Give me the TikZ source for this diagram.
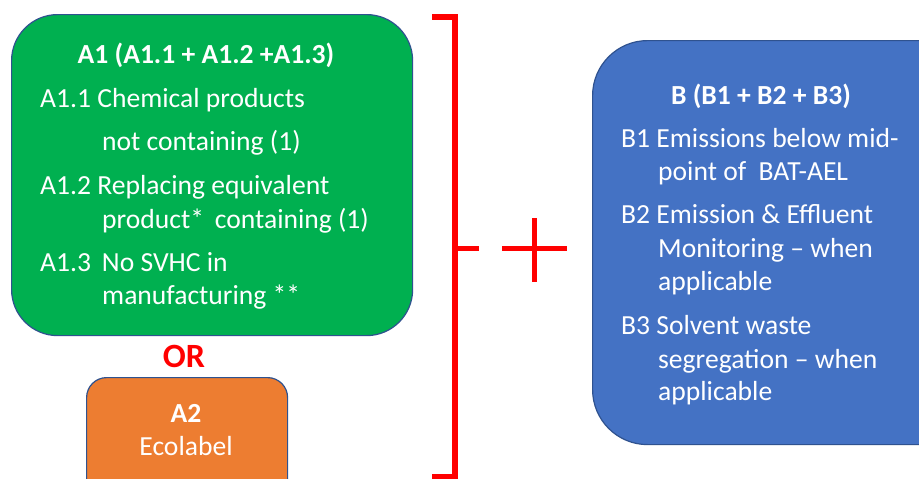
\documentclass[tikz,border=0pt]{standalone}
\usepackage{fontspec}
\setmainfont{Carlito}
\definecolor{grn}{HTML}{00B050}
\definecolor{org}{HTML}{ED7D31}
\definecolor{blu}{HTML}{4472C4}
\definecolor{edge}{HTML}{2F528F}
\definecolor{rd}{HTML}{FF0000}
\begin{document}
\begin{tikzpicture}[x=1pt,y=-1pt,
  box/.style={draw=edge, line width=1.2pt, anchor=north west, inner sep=0pt},
  txt/.style={anchor=base west, inner sep=0pt, text=white, font=\fontsize{27.6}{33}\selectfont},
  ttl/.style={anchor=base, inner sep=0pt, text=white, font=\fontsize{27.6}{33}\selectfont\bfseries},
  brk/.style={draw=rd, line width=5.5pt}]
\clip (0,0) rectangle (919,479);
\fill[white] (0,0) rectangle (919,479);
% boxes
\node[box, fill=grn, rounded corners=46pt, minimum width=401pt, minimum height=321pt] (A1) at (11,14) {};
\node[box, fill=org, rounded corners=20pt, minimum width=201pt, minimum height=140pt] (A2) at (86,377) {};
\node[box, fill=blu, rounded corners=55pt, minimum width=400pt, minimum height=404pt] (B) at (592,40) {};
% A1 text
\node[ttl] (a1t) at (206,63) {A1 (A1.1 + A1.2 +A1.3)};
\node[txt] (a11) at (40,107) {A1.1 Chemical products};
\node[txt] (a11b) at (102,150) {not containing (1)};
\node[txt] (a12) at (40,194) {A1.2 Replacing equivalent};
\node[txt] (a12b) at (102,228) {product*\, containing (1)};
\node[txt] (a13) at (40,271) {A1.3\, No SVHC in};
\node[txt] (a13b) at (102,304) {manufacturing **};
% OR
\node[anchor=base, inner sep=0pt, text=rd, font=\fontsize{34}{40}\selectfont\bfseries] (or) at (184,367) {OR};
% A2 text
\node[ttl] (a2t) at (186,422) {A2};
\node[anchor=base, inner sep=0pt, text=white, font=\fontsize{27.6}{33}\selectfont] (a2b) at (186,455) {Ecolabel};
% bracket and plus
\coordinate (bt1) at (432,17);
\coordinate (bt2) at (455,17);
\coordinate (bb2) at (455,477);
\coordinate (bb1) at (432,477);
\coordinate (bm1) at (455,248.5);
\coordinate (bm2) at (479,248.5);
\draw[brk] (bt1) -- (bt2) -- (bb2) -- (bb1);
\draw[brk] (bm1) -- (bm2);
\coordinate (ph1) at (502,248.5);
\coordinate (ph2) at (567,248.5);
\coordinate (pv1) at (534.5,218);
\coordinate (pv2) at (534.5,282);
\draw[brk] (ph1) -- (ph2);
\draw[brk] (pv1) -- (pv2);
% B text
\node[ttl] (bt) at (761,104) {B (B1 + B2 + B3)};
\node[txt] (b1) at (621,147) {B1 Emissions below mid-};
\node[txt] (b1b) at (658,180) {point of\ \ BAT-AEL};
\node[txt] (b2) at (621,223) {B2 Emission \& Effluent};
\node[txt] (b2b) at (658,257) {Monitoring -- when};
\node[txt] (b2c) at (658,290) {applicable};
\node[txt] (b3) at (621,334) {B3 Solvent waste};
\node[txt] (b3b) at (658,368) {segregation -- when};
\node[txt] (b3c) at (658,400) {applicable};
\end{tikzpicture}
\end{document}
